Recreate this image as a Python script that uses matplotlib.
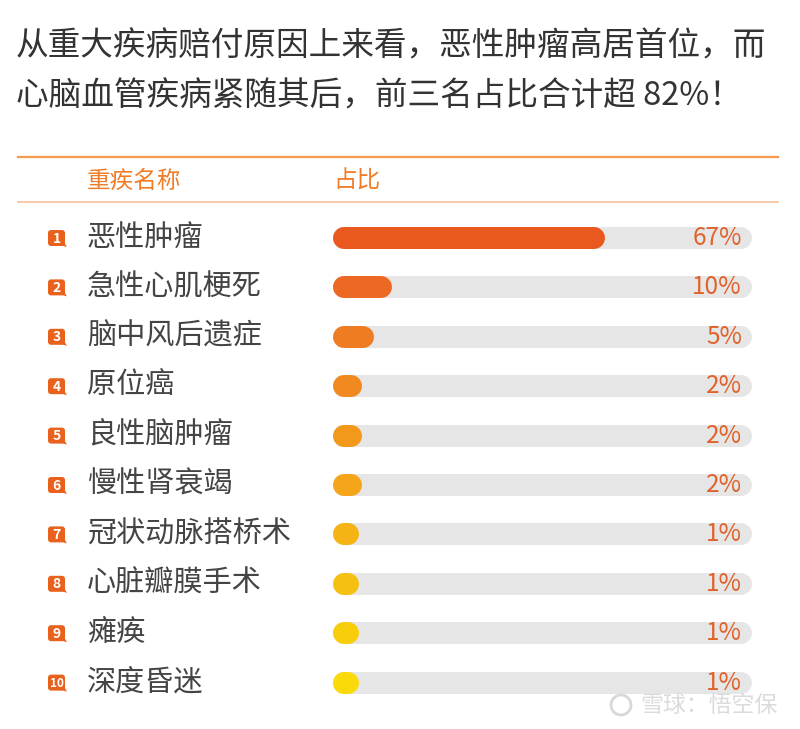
import matplotlib.pyplot as plt
from matplotlib.patches import FancyBboxPatch, Circle, Polygon

plt.rcParams['font.family'] = ['Noto Sans CJK SC', 'DejaVu Sans']

title_lines = ["从重大疾病赔付原因上来看，恶性肿瘤高居首位，而",
               "心脑血管疾病紧随其后，前三名占比合计超 82%！"]
diseases = ["恶性肿瘤", "急性心肌梗死", "脑中风后遗症", "原位癌", "良性脑肿瘤",
            "慢性肾衰竭", "冠状动脉搭桥术", "心脏瓣膜手术", "瘫痪", "深度昏迷"]
shares = [67, 10, 5, 2, 2, 2, 1, 1, 1, 1]
share_labels = ["67%", "10%", "5%", "2%", "2%", "2%", "1%", "1%", "1%", "1%"]
bar_colors = ["#E8581F", "#EC6823", "#EF7C22", "#F0891F", "#F2981B",
              "#F4A519", "#F5B414", "#F6C010", "#F8CE0B", "#FADA08"]

W, H = 800, 729
fig = plt.figure(figsize=(8, 7.29), dpi=100)

# full-figure axes in pixel units for the text layout
bg = fig.add_axes([0, 0, 1, 1])
bg.set_xlim(0, W)
bg.set_ylim(H, 0)
bg.axis('off')

bg.text(16, 46, title_lines[0], fontsize=23.5, color='#333333', va='center')
bg.text(16, 96, title_lines[1], fontsize=23.5, color='#333333', va='center')

bg.plot([18, 778], [157, 157], color='#F39A4E', lw=1.6)
bg.plot([18, 778], [202, 202], color='#F7C09A', lw=1.2)
bg.text(87, 181, "重疾名称", fontsize=17, color='#F07C28', va='center')
bg.text(333, 181, "占比", fontsize=17, color='#F07C28', va='center')

row_y0, row_step = 238, 49.4
for i, name in enumerate(diseases):
    y = row_y0 + i * row_step
    bg.add_patch(FancyBboxPatch((48, y - 8), 17, 16,
                                boxstyle="round,pad=0,rounding_size=3",
                                fc='#E8621E', ec='none'))
    bg.add_patch(Polygon([[60, y + 7], [67, y + 9], [64, y + 4]],
                         closed=True, fc='#E8621E', ec='none'))
    bg.text(56.5, y + 0.5, str(i + 1), fontsize=10 if i < 9 else 8.5,
            color='white', ha='center', va='center', fontweight='bold')
    bg.text(87, y, name, fontsize=21, color='#444444', va='center')
    bg.text(742, y, share_labels[i], fontsize=17.5, color='#E0622A',
            ha='right', va='center')

# watermark
bg.add_patch(Circle((621, 705), 10, fill=False, ec='#D8D8D8', lw=2))
bg.text(778, 705, "雪球：悟空保", fontsize=16.5, color='#D8D8D8',
        ha='right', va='center', alpha=0.9)

# bar axes: centres of the round caps run from x=344 to x=741
x0, x1 = 344, 741
ytop, ybot = row_y0, row_y0 + 9 * row_step
ax = fig.add_axes([x0 / W, 1 - (ybot + row_step / 2) / H,
                   (x1 - x0) / W, (ybot - ytop + row_step) / H])
ax.set_xlim(0, 106.4)
ax.set_ylim(len(diseases) - 0.5, -0.5)
ax.axis('off')
ax.patch.set_alpha(0)

lw = 22 * 72 / 100
for i, v in enumerate(shares):
    ax.plot([0, 106.4], [i, i], color='#E6E6E6', lw=lw,
            solid_capstyle='round', zorder=1, clip_on=False)
    ax.plot([0, v], [i, i], color=bar_colors[i], lw=lw,
            solid_capstyle='round', zorder=2, clip_on=False)

# keep the text layer above the bars
ax.set_zorder(1)
bg.set_zorder(2)
bg.patch.set_alpha(0)

fig.savefig("out.png", dpi=100, facecolor='white')
